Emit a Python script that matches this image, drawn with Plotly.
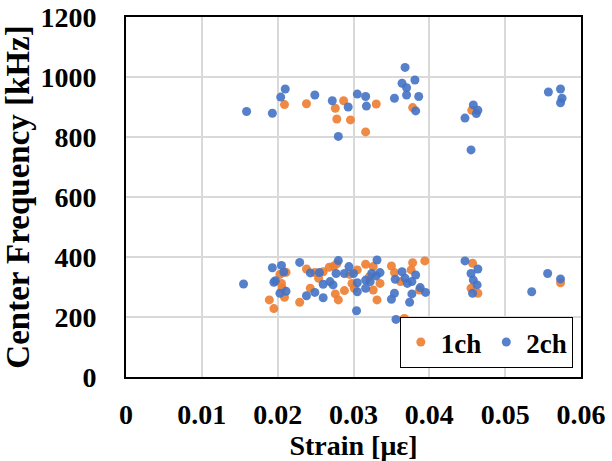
import plotly.graph_objects as go

# 1ch (orange) points: strain [με], center frequency [kHz]
ch1_strain = [0.0209, 0.0238, 0.0287, 0.0276, 0.0278, 0.0296, 0.0316, 0.0330, 0.0378, 0.0456,
              0.0203, 0.0211, 0.0205, 0.0206, 0.0209, 0.0189, 0.0195, 0.0238, 0.0249, 0.0254,
              0.0260, 0.0268, 0.0274, 0.0278, 0.0243, 0.0229, 0.0276, 0.0280, 0.0288, 0.0295,
              0.0305, 0.0298, 0.0301, 0.0316, 0.0326, 0.0321, 0.0335, 0.0326, 0.0331, 0.0350,
              0.0354, 0.0362, 0.0378, 0.0394, 0.0376, 0.0387, 0.0367, 0.0371, 0.0457, 0.0455,
              0.0464, 0.0573]
ch1_freq = [908, 911, 921, 896, 860, 857, 817, 910, 898, 889,
            342, 349, 312, 296, 266, 257, 228, 360, 348, 329,
            351, 366, 370, 377, 296, 249, 277, 257, 288, 342,
            357, 312, 296, 376, 368, 334, 312, 290, 257, 370,
            348, 318, 381, 387, 357, 290, 195, 187, 379, 296,
            279, 314]

# 2ch (blue) points
ch2_strain = [0.0159, 0.0193, 0.0210, 0.0204, 0.0249, 0.0272, 0.0293, 0.0280, 0.0305, 0.0316,
              0.0317, 0.0354, 0.0368, 0.0364, 0.0381, 0.0370, 0.0370, 0.0386, 0.0382, 0.0458,
              0.0464, 0.0462, 0.0447, 0.0455, 0.0557, 0.0573, 0.0575, 0.0573,
              0.0155, 0.0193, 0.0205, 0.0208, 0.0195, 0.0197, 0.0203, 0.0211, 0.0229, 0.0243,
              0.0255, 0.0280, 0.0277, 0.0269, 0.0260, 0.0273, 0.0238, 0.0249, 0.0260, 0.0294,
              0.0288, 0.0300, 0.0305, 0.0305, 0.0304, 0.0331, 0.0324, 0.0330, 0.0335, 0.0316,
              0.0322, 0.0316, 0.0364, 0.0355, 0.0368, 0.0371, 0.0377, 0.0382, 0.0354, 0.0350,
              0.0377, 0.0374, 0.0388, 0.0395, 0.0356, 0.0447, 0.0464, 0.0455, 0.0458, 0.0463,
              0.0457, 0.0556, 0.0573, 0.0535]
ch2_freq = [885, 879, 960, 933, 940, 921, 900, 802, 943, 935,
            903, 929, 1032, 979, 990, 964, 940, 935, 887, 907,
            889, 878, 863, 757, 950, 960, 929, 914,
            310, 364, 372, 350, 316, 321, 279, 286, 382, 347,
            348, 388, 345, 318, 309, 307, 271, 282, 264, 368,
            345, 345, 314, 284, 221, 390, 345, 337, 348, 323,
            318, 296, 351, 326, 329, 312, 318, 340, 279, 259,
            277, 249, 298, 282, 192, 387, 360, 345, 323, 307,
            279, 345, 327, 284]

x_ticks = [0, 0.01, 0.02, 0.03, 0.04, 0.05, 0.06]
x_tick_labels = ["0", "0.01", "0.02", "0.03", "0.04", "0.05", "0.06"]
y_ticks = [0, 200, 400, 600, 800, 1000, 1200]
y_tick_labels = ["0", "200", "400", "600", "800", "1000", "1200"]

FONT = "Liberation Serif"

def bold(s):
    return "<b>" + s + "</b>"

fig = go.Figure()
fig.add_trace(go.Scatter(x=ch1_strain, y=ch1_freq, mode="markers", name=bold("1ch"),
                         marker=dict(color="#ED7D31", size=9, opacity=0.9)))
fig.add_trace(go.Scatter(x=ch2_strain, y=ch2_freq, mode="markers", name=bold("2ch"),
                         marker=dict(color="#4472C4", size=9, opacity=0.9)))

fig.update_layout(
    width=612, height=461,
    margin=dict(l=126, r=31, t=17, b=84),
    paper_bgcolor="white", plot_bgcolor="white",
    font=dict(family=FONT, size=27, color="black"),
    showlegend=True,
    legend=dict(orientation="h", x=0.982, y=0.025, xanchor="right", yanchor="bottom",
                bordercolor="black", borderwidth=1, bgcolor="white",
                font=dict(family=FONT, size=27, color="black"),
                itemwidth=30, tracegroupgap=0),
)
fig.update_xaxes(range=[0, 0.06], tickvals=x_ticks, ticktext=[bold(t) for t in x_tick_labels],
                 showgrid=True, gridcolor="#D9D9D9", gridwidth=1.5,
                 showline=True, linecolor="black", linewidth=2, mirror=True,
                 zeroline=False, ticks="", automargin=False, ticklabelstandoff=11,
                 tickfont=dict(family=FONT, size=28, color="black"),
                 title=dict(text=bold("Strain [με]"),
                            font=dict(family=FONT, size=28, color="black"),
                            standoff=2))
fig.update_yaxes(range=[0, 1200], tickvals=y_ticks, ticktext=[bold(t) for t in y_tick_labels],
                 showgrid=True, gridcolor="#D9D9D9", gridwidth=1.5,
                 showline=True, linecolor="black", linewidth=2, mirror=True,
                 zeroline=False, ticks="", automargin=False, ticklabelstandoff=22,
                 tickfont=dict(family=FONT, size=28, color="black"),
                 title=dict(text=bold("Center Frequency [kHz]"),
                            font=dict(family=FONT, size=33, color="black"),
                            standoff=2))

fig.write_html("out.html")
